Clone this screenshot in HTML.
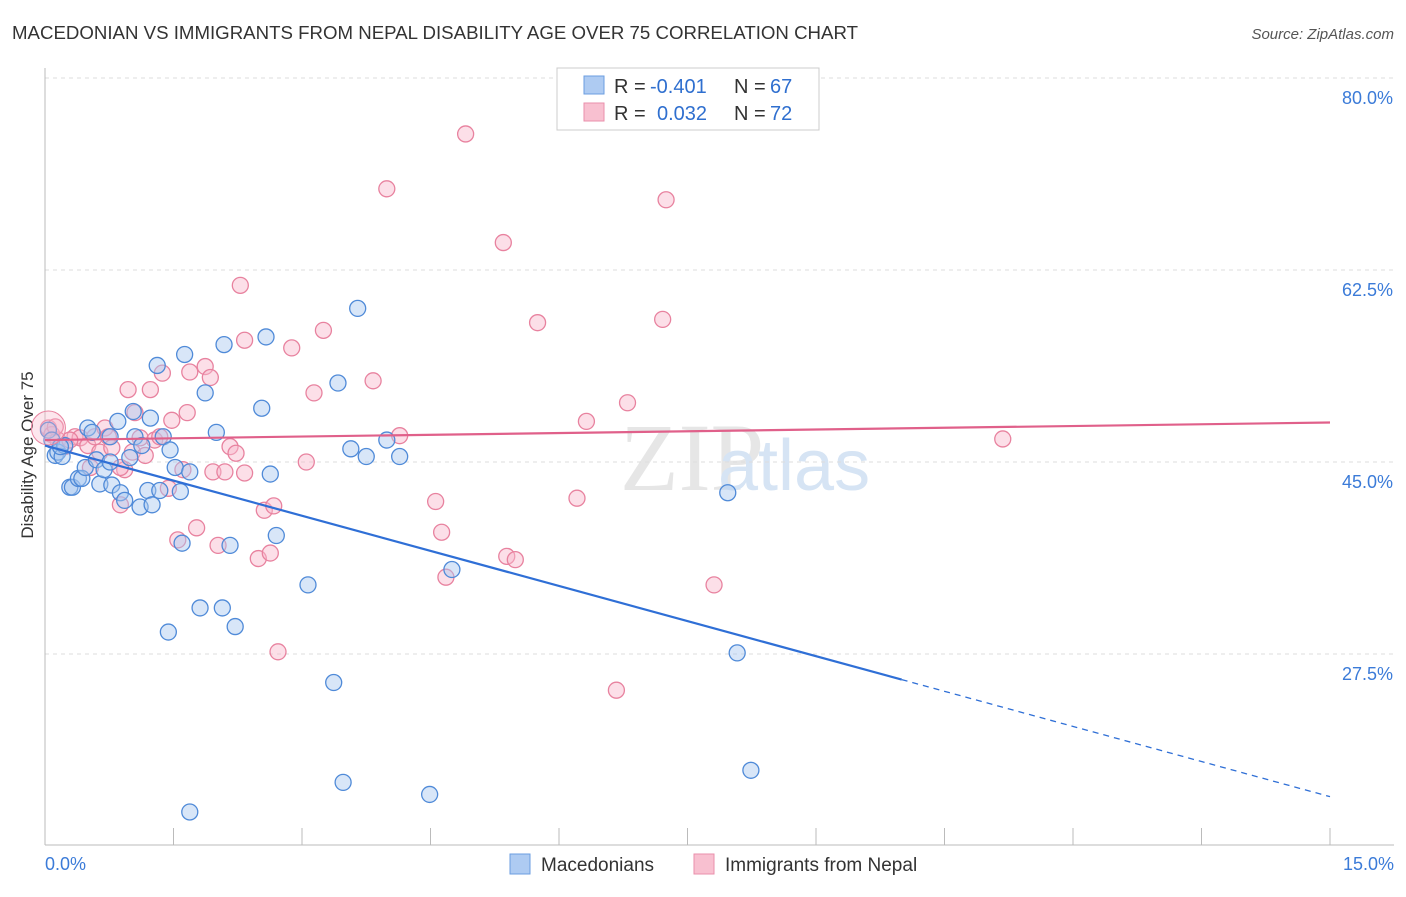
<!DOCTYPE html>
<html><head><meta charset="utf-8"><style>
body{margin:0;background:#fff;font-family:"Liberation Sans",sans-serif;}
</style></head><body>
<svg id="chart" width="1406" height="892" xmlns="http://www.w3.org/2000/svg">
<text x="12" y="39" font-size="18" fill="#333" textLength="846" lengthAdjust="spacingAndGlyphs">MACEDONIAN VS IMMIGRANTS FROM NEPAL DISABILITY AGE OVER 75 CORRELATION CHART</text>
<text x="1394" y="39" font-size="15" fill="#555" font-style="italic" text-anchor="end">Source: ZipAtlas.com</text>
<text x="620" y="490" font-size="96" fill="#e6e6e6" font-family="Liberation Serif,serif">ZIP</text>
<text x="718" y="490" font-size="72" fill="#d6e4f4">atlas</text>
<text transform="translate(33,455) rotate(-90)" font-size="17" fill="#333" text-anchor="middle">Disability Age Over 75</text>
<g id="grid"></g><g id="marks"></g>
<g>
<rect x="557" y="68" width="262" height="62" fill="#fff" stroke="#ccc"/>
<rect x="584" y="76" width="20" height="18" fill="#aecbf2" stroke="#6b9ee0"/>
<rect x="584" y="103" width="20" height="18" fill="#f8c0d0" stroke="#ea8fab"/>
<text x="614" y="93" font-size="20" fill="#333">R =</text>
<text x="650" y="93" font-size="20" fill="#2f6fcf">-0.401</text>
<text x="734" y="93" font-size="20" fill="#333">N =</text>
<text x="770" y="93" font-size="20" fill="#2f6fcf">67</text>
<text x="614" y="120" font-size="20" fill="#333">R =</text>
<text x="657" y="120" font-size="20" fill="#2f6fcf">0.032</text>
<text x="734" y="120" font-size="20" fill="#333">N =</text>
<text x="770" y="120" font-size="20" fill="#2f6fcf">72</text>
</g>
<g>
<rect x="510" y="854" width="20" height="20" fill="#aecbf2" stroke="#6b9ee0"/>
<text x="541" y="871" font-size="19" fill="#333">Macedonians</text>
<rect x="694" y="854" width="20" height="20" fill="#f8c0d0" stroke="#ea8fab"/>
<text x="725" y="871" font-size="19" fill="#333">Immigrants from Nepal</text>
</g>
<text x="45" y="870" font-size="18" fill="#3b7bd8">0.0%</text>
<text x="1394" y="870" font-size="18" fill="#3b7bd8" text-anchor="end">15.0%</text>
</svg>
<script>
const yTicks=[80,62.5,45,27.5];
const yTickLabels=["80.0%","62.5%","45.0%","27.5%"];
const xTicks=[0,1.5,3,4.5,6,7.5,9,10.5,12,13.5,15];
const blueX=[.04,.08,.12,.15,.20,.23,.29,.32,.39,.43,.47,.50,.55,.60,.64,.69,.76,.78,.85,.88,.93,.99,1.03,1.05,1.11,1.13,1.20,1.23,1.25,1.31,1.34,1.38,1.44,1.46,1.52,1.58,1.60,1.63,1.69,1.81,1.87,2.00,2.07,2.09,2.16,2.22,2.53,2.58,2.63,2.70,3.07,3.37,3.42,3.48,3.57,3.65,3.75,3.99,4.14,4.49,4.75,1.69,7.97,8.08,8.24,.76,.18];
const blueY=[47.9,47.0,45.6,45.9,45.5,46.5,42.7,42.7,43.5,43.5,44.5,48.1,47.7,45.2,43.0,44.3,45.0,42.9,48.7,42.2,41.5,45.4,49.6,47.3,40.9,46.5,42.4,49.0,41.1,53.8,42.4,47.3,29.5,46.1,44.5,42.3,37.6,54.8,44.1,31.7,51.3,47.7,31.7,55.7,37.4,30.0,49.9,56.4,43.9,38.3,33.8,24.9,52.2,15.8,46.2,59.0,45.5,47.0,45.5,14.7,35.2,13.1,42.2,27.6,16.9,47.3,46.4];
const pinkX=[.04,.08,.15,.23,.35,.41,.50,.58,.64,.70,.74,.78,.88,.93,.97,1.02,1.05,1.11,1.17,1.23,1.28,1.37,1.44,1.48,1.55,1.61,1.66,1.69,1.77,1.87,1.93,1.96,2.02,2.10,2.16,2.23,2.28,2.33,2.33,2.49,2.56,2.63,2.67,2.72,2.88,3.05,3.14,3.25,3.83,3.99,4.14,4.56,4.63,4.68,4.91,5.35,5.39,5.49,5.75,6.21,6.32,6.67,6.80,7.21,7.25,7.81,11.18,.12,.29,.53,.88,1.34];
const pinkY=[48.1,47.5,47.0,46.4,47.3,47.2,46.5,47.3,45.9,48.1,47.3,46.3,41.1,44.3,51.6,45.9,49.5,47.2,45.6,51.6,47.0,53.1,42.6,48.8,37.9,44.3,49.5,53.2,39.0,53.7,52.7,44.1,37.4,44.1,46.4,45.8,61.1,56.1,44.0,36.2,40.6,36.7,41.0,27.7,55.4,45.0,51.3,57.0,52.4,69.9,47.4,41.4,38.6,34.5,74.9,65.0,36.4,36.1,57.7,41.7,48.7,24.2,50.4,58.0,68.9,33.8,47.1,48.2,47.0,44.5,44.5,47.3];
const blueTrend=[46.5,14.5]; const blueSolidEnd=10;
const pinkTrend=[47.0,48.6];
const sx=v=>45+v/15*1285;
const sy=v=>78+(80-v)*192/17.5;
const NS="http://www.w3.org/2000/svg";
function mk(p,t,a){const e=document.createElementNS(NS,t);for(const k in a)e.setAttribute(k,a[k]);p.appendChild(e);return e;}
const grid=document.getElementById('grid'),marks=document.getElementById('marks');
yTicks.forEach((v,i)=>{
 const l=mk(grid,'line',{x1:45,x2:1394,y1:sy(v),y2:sy(v),stroke:'#ddd','stroke-dasharray':'4,4'});
 
 
 const t=mk(grid,'text',{x:1393,y:sy(v)+26,'font-size':18,fill:'#3b7bd8','text-anchor':'end'});
 t.textContent=yTickLabels[i];
 
 
});
const ax=mk(grid,'line',{x1:45,x2:45,y1:68,y2:845,stroke:'#bbb'});


const bx=mk(grid,'line',{x1:45,x2:1394,y1:845,y2:845,stroke:'#bbb'});


xTicks.forEach(v=>{const t=mk(grid,'line',{x1:sx(v),x2:sx(v),y1:828,y2:845,stroke:'#bbb'});
 
 });
function dots(X,Y,fill,stroke,name){X.forEach((x,i)=>{
 const c=mk(marks,'circle',{cx:sx(x),cy:sy(Y[i]),r:8,fill:fill,'fill-opacity':0.45,stroke:stroke,'stroke-width':1.3});
 
 });}
dots(pinkX,pinkY,'#f8b8cb','#e8829f','nepal-point');
dots(blueX,blueY,'#a9c8f0','#4f8ad8','macedonian-point');
const big=mk(marks,'circle',{cx:sx(pinkX[0]),cy:sy(pinkY[0]),r:17,fill:'#f8b8cb','fill-opacity':0.35,stroke:'#e8829f'});


const bv=x=>blueTrend[0]+(blueTrend[1]-blueTrend[0])*x/15;
const b1=mk(marks,'line',{x1:sx(0),y1:sy(bv(0)),x2:sx(blueSolidEnd),y2:sy(bv(blueSolidEnd)),stroke:'#2f6fd6','stroke-width':2.2});


const b2=mk(marks,'line',{x1:sx(blueSolidEnd),y1:sy(bv(blueSolidEnd)),x2:sx(15),y2:sy(bv(15)),stroke:'#2f6fd6','stroke-width':1.3,'stroke-dasharray':'6,5'});


const p1=mk(marks,'line',{x1:sx(0),y1:sy(pinkTrend[0]),x2:sx(15),y2:sy(pinkTrend[1]),stroke:'#e0608a','stroke-width':2.2});


</script>
</body></html>
